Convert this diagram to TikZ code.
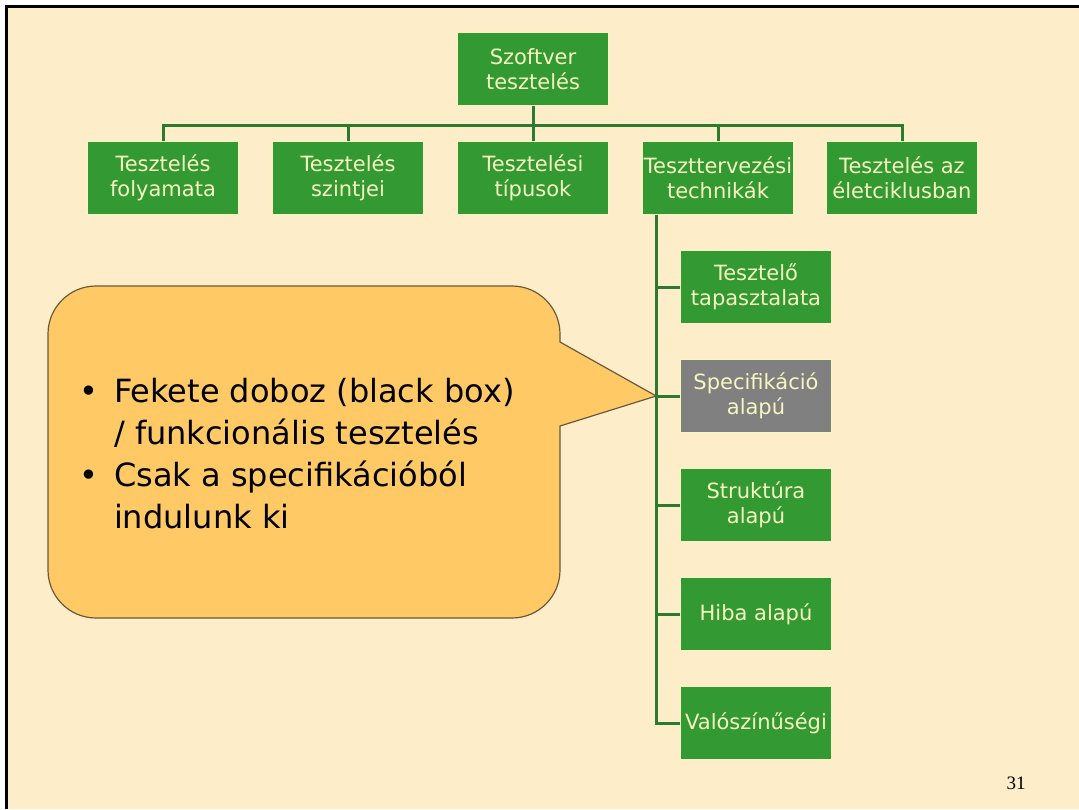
\documentclass[tikz,border=0pt]{standalone}
\usepackage{fontspec}
\setmainfont{DejaVu Sans}
\newfontfamily\pagenumfont{Liberation Serif}
\usepackage{tikz}
\definecolor{slidebg}{RGB}{253,237,200}
\definecolor{boxgreen}{RGB}{51,153,51}
\definecolor{linegreen}{RGB}{44,122,48}
\definecolor{boxtext}{RGB}{246,246,192}
\definecolor{boxgrey}{RGB}{128,128,128}
\definecolor{notefill}{RGB}{255,201,102}
\definecolor{noteline}{RGB}{105,90,60}

\begin{document}
\begin{tikzpicture}[x=1pt,y=-1pt,
    box/.style={draw=boxtext, line width=1.5pt, fill=boxgreen, text=boxtext,
      minimum width=151pt, minimum height=73pt, inner sep=2pt, align=center,
      font=\fontsize{21}{25}\selectfont},
    greybox/.style={box, fill=boxgrey},
    conn/.style={draw=linegreen, line width=3pt}]
            \useasboundingbox (0,0) rectangle (1079,809);
            \fill[white] (0,0) rectangle (1079,809);
            \fill[slidebg] (6,6) rectangle (1079,809); % slide
            \draw[line width=3pt] (6,809) -- (6,6) -- (1079,6);

            % top
            \node[box] (root) at (533,69) {Szoftver\\tesztelés};
            \coordinate (bar) at ([yshift=-19pt]root.south);

            % first row
            \foreach \name/\xpos/\txt in {folyamata/163/{Tesztelés\\folyamata},
                szintjei/348/{Tesztelés\\szintjei}, tipusok/533/{Tesztelési\\típusok},
                technikak/718/{Teszttervezési\\technikák},
                eletciklus/902/{Tesztelés az\\életciklusban}} {
              \node[box] (\name) at (\xpos,178) {\txt};
              \draw[conn] (root.south) -- (bar) -| (\name.north);
            }

            % techniques column
            \coordinate (trunk) at ([xshift=15pt]technikak.south west);
            \foreach \name/\i/\kind/\txt in {tapasztalat/0/box/{Tesztelő\\tapasztalata},
                spec/1/greybox/{Specifikáció\\alapú}, struktura/2/box/{Struktúra\\alapú},
                hiba/3/box/{Hiba alapú}, valoszin/4/box/{Valószínűségi}} {
              \node[\kind] (\name) at (756,{287+109*\i}) {\txt};
              \draw[conn] (trunk) |- (\name.west);
            }

            % callout
            \coordinate (tip) at (trunk |- spec.west);
            \filldraw[fill=notefill, draw=noteline, line width=1.2pt]
              (560,342) -- (tip) -- (560,426) [rounded corners=48pt] -- (560,618)
              -- (48,618) -- (48,286) -- (560,286) [sharp corners] -- (560,342) -- cycle;
            \node[anchor=base west, inner sep=0pt, align=left,
              font=\fontsize{32}{42}\selectfont] (note) at (79,402)
              {\begin{tabular}[t]{@{}l@{\hspace{16pt}}l@{}}
                \textbullet & Fekete doboz (black box)\\
                            & / funkcionális tesztelés\\
                \textbullet & Csak a specifikációból\\
                            & indulunk ki
              \end{tabular}};

            % page number
            \node[font=\pagenumfont\fontsize{19}{20}\selectfont] (pagenum) at (1016,783) {31};
\end{tikzpicture}
\end{document}
